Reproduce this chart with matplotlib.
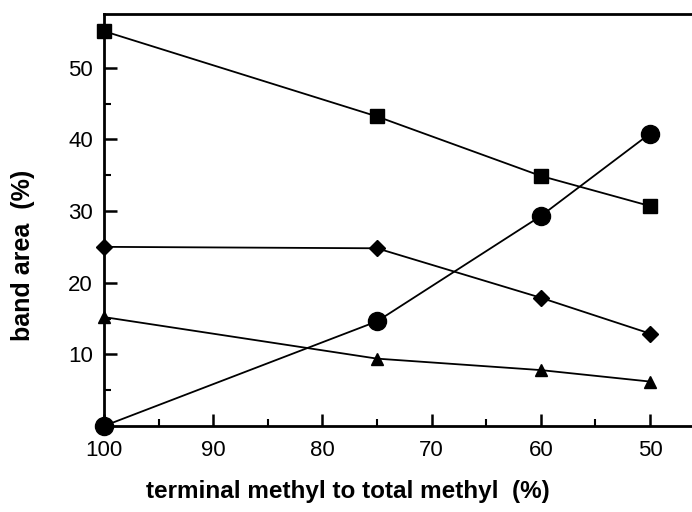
import numpy as np
import matplotlib.pyplot as plt
from matplotlib.ticker import MultipleLocator

plt.rcParams['font.family'] = ['Liberation Sans', 'DejaVu Sans']

# terminal methyl fraction (%)
ratio = [100, 75, 60, 50]

# band areas (%) for the four bands
band_square = [55.1, 43.2, 34.9, 30.7]
band_circle = [0.0, 14.6, 29.3, 40.8]
band_diamond = [25.0, 24.8, 17.9, 12.9]
band_triangle = [15.2, 9.4, 7.8, 6.2]

fig = plt.figure(figsize=(6.92, 5.12), dpi=100)
ax = fig.add_axes([0.1503, 0.168, 0.8497, 0.8047])

ax.plot(ratio, band_square, 'k-', marker='s', ms=10, lw=1.3, clip_on=False)
ax.plot(ratio, band_circle, 'k-', marker='o', ms=13, lw=1.3, clip_on=False)
ax.plot(ratio, band_diamond, 'k-', marker='D', ms=8.5, lw=1.3, clip_on=False)
ax.plot(ratio, band_triangle, 'k-', marker='^', ms=8.5, lw=1.3, clip_on=False)

ax.set_xlim(100, 46.15)
ax.set_ylim(0, 57.5)
ax.xaxis.set_major_locator(MultipleLocator(10))
ax.xaxis.set_minor_locator(MultipleLocator(5))
ax.set_yticks([10, 20, 30, 40, 50])
ax.yaxis.set_minor_locator(MultipleLocator(5))

ax.spines['right'].set_visible(False)
for s in ['left', 'bottom', 'top']:
    ax.spines[s].set_linewidth(2)

ax.tick_params(which='major', direction='in', length=9, width=1.8, labelsize=16)
ax.tick_params(which='minor', direction='in', length=5, width=1.5)
ax.tick_params(axis='x', which='major', pad=10)
ax.tick_params(axis='y', which='major', pad=8)
ax.tick_params(axis='x', top=False, which='both')

ax.set_xlabel('terminal methyl to total methyl  (%)', fontsize=17.5, fontweight='bold')
ax.set_ylabel('band area  (%)', fontsize=18, fontweight='bold')
ax.xaxis.set_label_coords(0.415, -0.132)
ax.yaxis.set_label_coords(-0.117, 0.415)

plt.savefig('out.png', dpi=100)
